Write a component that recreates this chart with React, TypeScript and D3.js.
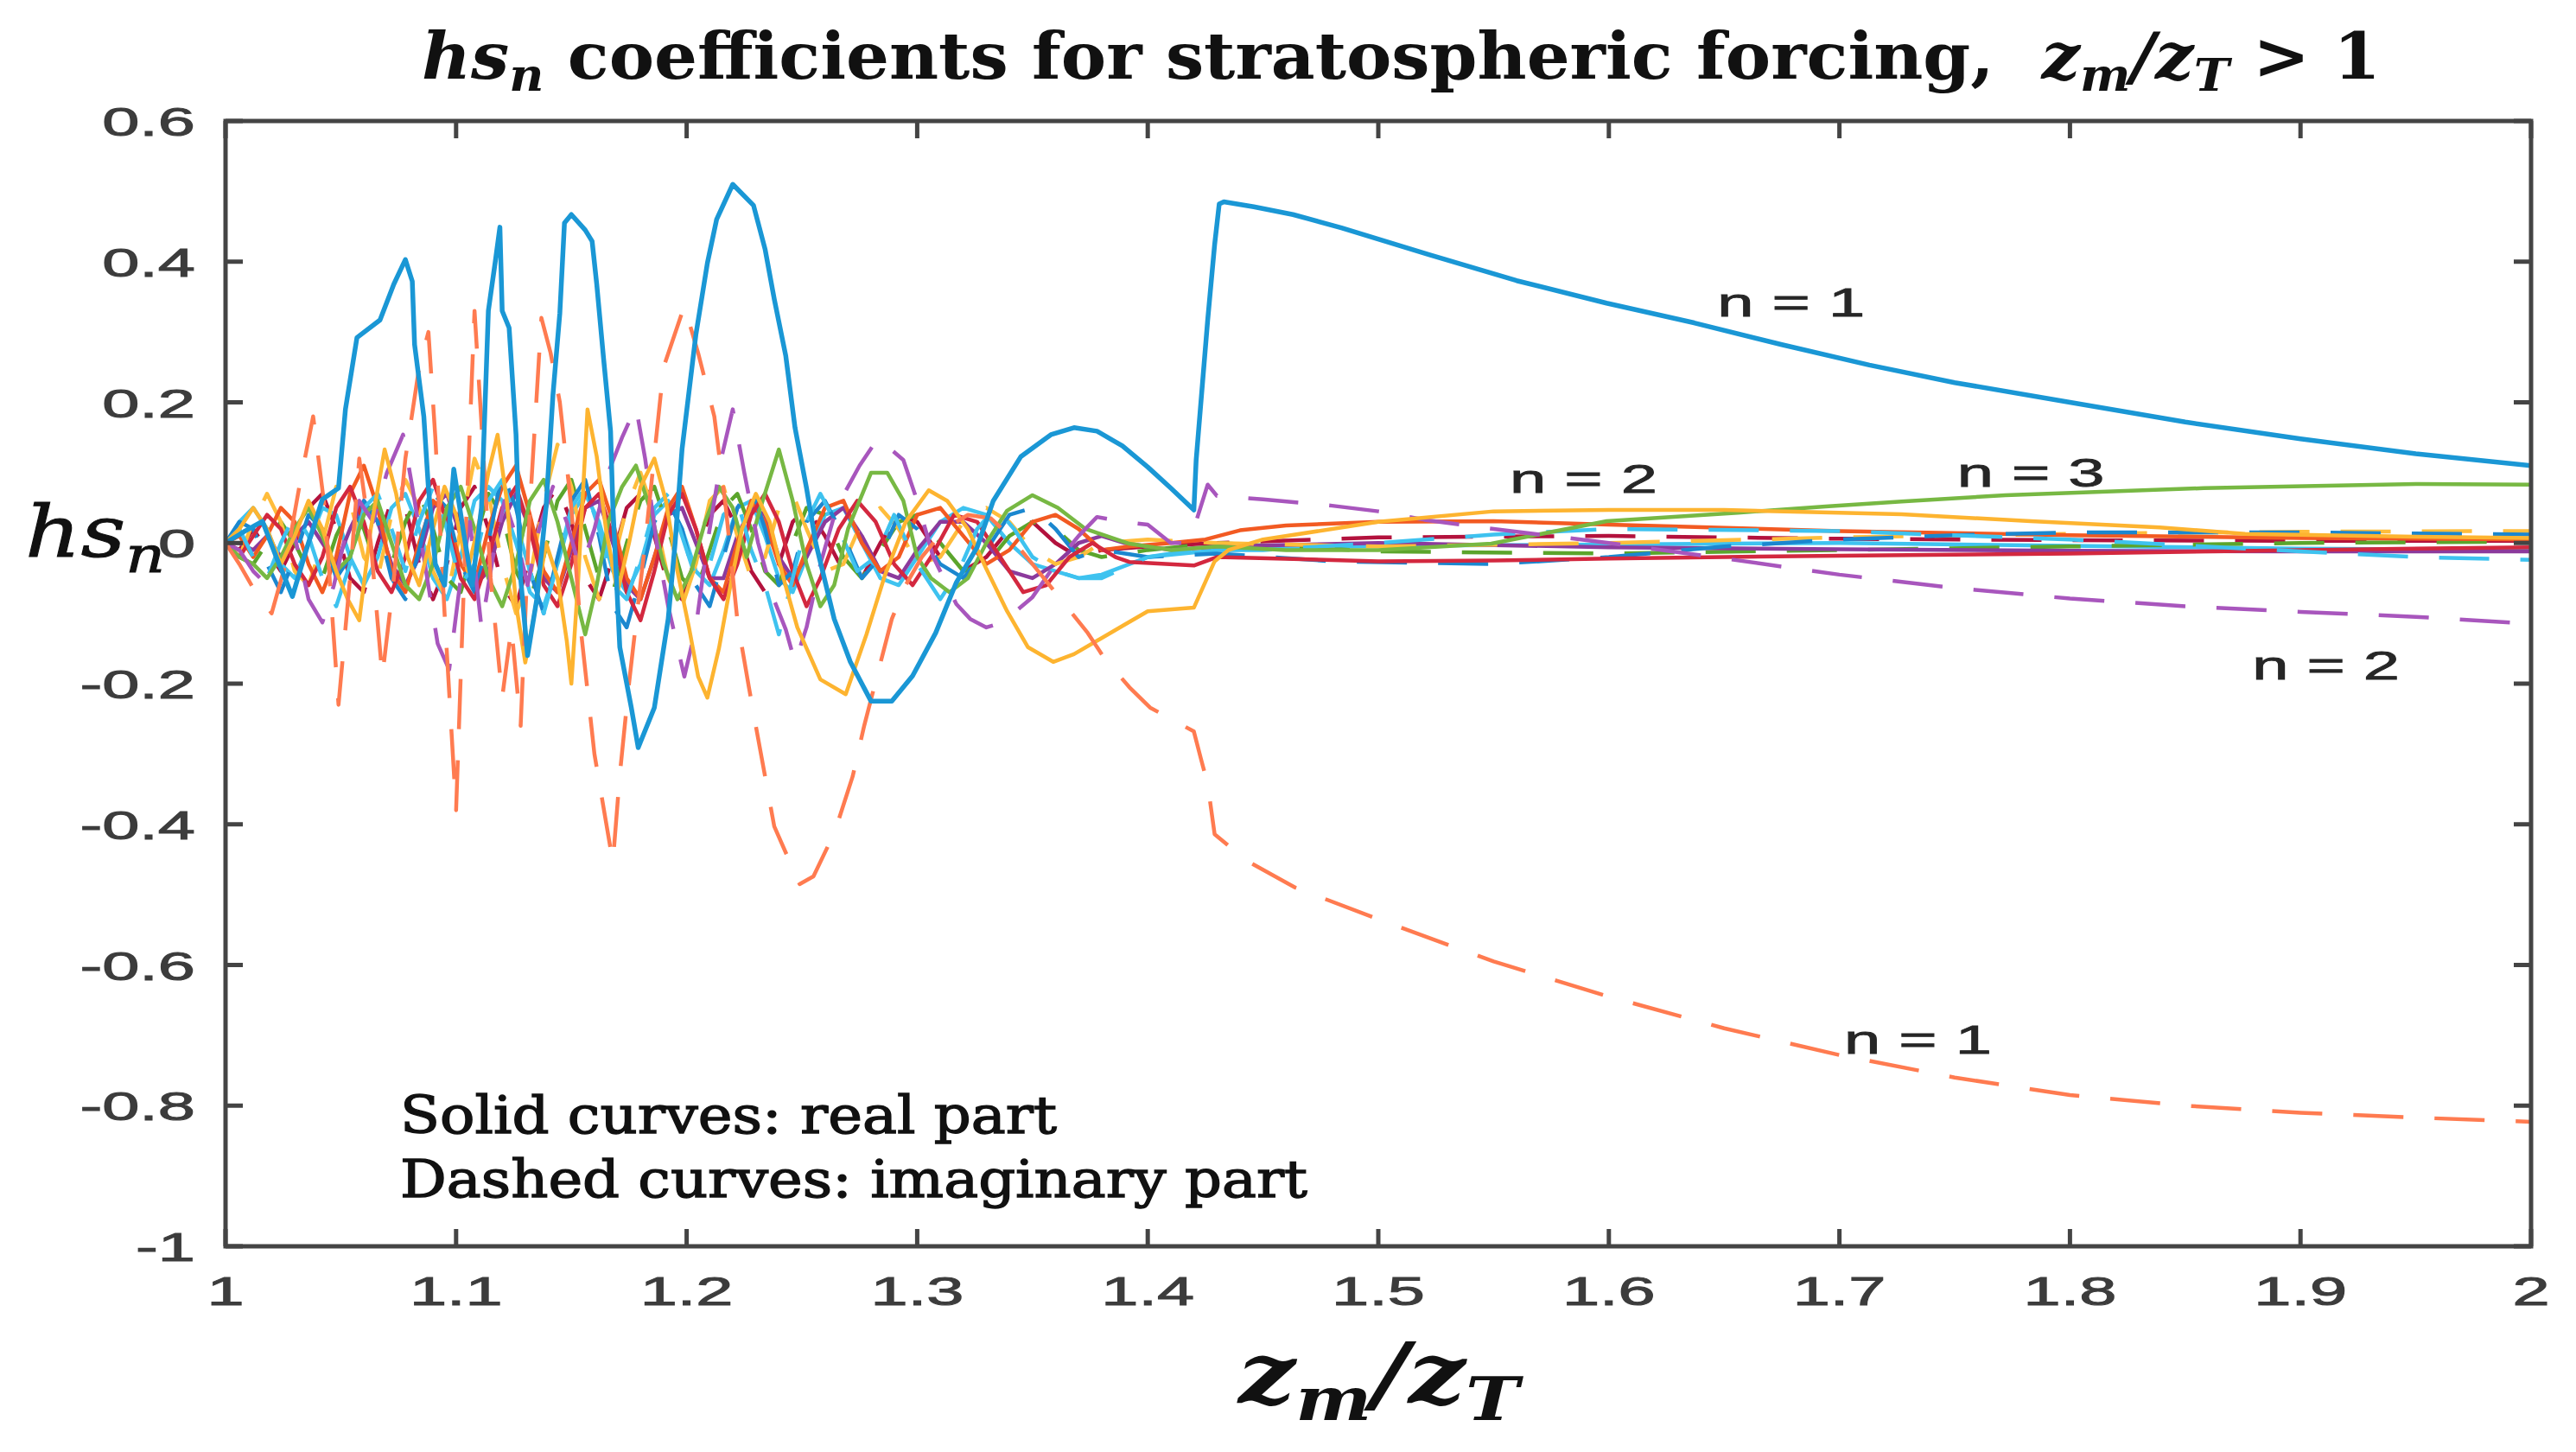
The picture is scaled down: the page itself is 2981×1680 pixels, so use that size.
import React, { useEffect, useRef } from 'react';
import * as d3 from 'd3';

type Pt = [number, number];

// axis ticks
const xTicks = [1, 1.1, 1.2, 1.3, 1.4, 1.5, 1.6, 1.7, 1.8, 1.9, 2];
const yTicks = [0.6, 0.4, 0.2, 0, -0.2, -0.4, -0.6, -0.8, -1];

// n = 1, real part
const re1: Pt[] = [
  [1.000, 0], [1.008, 0.016], [1.016, 0.031], [1.022, -0.02], [1.029, -0.076], [1.035, -0.01], [1.042, 0.062],
  [1.049, 0.078], [1.052, 0.19], [1.057, 0.292], [1.067, 0.317], [1.073, 0.368], [1.078, 0.403], [1.081, 0.372],
  [1.082, 0.282], [1.086, 0.18], [1.088, 0.078], [1.091, -0.03], [1.095, -0.06], [1.099, 0.105], [1.103, 0.02],
  [1.107, -0.06], [1.111, 0.05], [1.114, 0.33], [1.117, 0.40], [1.119, 0.449], [1.120, 0.33], [1.123, 0.306],
  [1.126, 0.154], [1.128, -0.05], [1.131, -0.16], [1.135, -0.08], [1.139, 0.05], [1.142, 0.21], [1.145, 0.327],
  [1.147, 0.455], [1.150, 0.467], [1.156, 0.445], [1.159, 0.429], [1.161, 0.368], [1.164, 0.261], [1.167, 0.159],
  [1.168, 0.052], [1.171, -0.148], [1.176, -0.234], [1.179, -0.291], [1.186, -0.234], [1.192, -0.108], [1.195, 0.0],
  [1.198, 0.133], [1.204, 0.296], [1.209, 0.398], [1.213, 0.46], [1.220, 0.51], [1.229, 0.48], [1.234, 0.418],
  [1.238, 0.347], [1.243, 0.266], [1.247, 0.164], [1.252, 0.078], [1.256, 0.0], [1.264, -0.108], [1.271, -0.169],
  [1.280, -0.225], [1.289, -0.225], [1.298, -0.189], [1.308, -0.128], [1.317, -0.056], [1.326, -0.006], [1.333, 0.06],
  [1.345, 0.123], [1.358, 0.154], [1.368, 0.164], [1.378, 0.159], [1.389, 0.138], [1.400, 0.108], [1.410, 0.078],
  [1.420, 0.047], [1.421, 0.118], [1.426, 0.317], [1.429, 0.424], [1.431, 0.482], [1.433, 0.485], [1.446, 0.478],
  [1.463, 0.467], [1.484, 0.448], [1.522, 0.41], [1.560, 0.373], [1.599, 0.341], [1.637, 0.313], [1.675, 0.282],
  [1.713, 0.253], [1.750, 0.228], [1.800, 0.200], [1.850, 0.172], [1.900, 0.148], [1.950, 0.127], [2.000, 0.11],
];

// n = 1, imaginary part
const im1: Pt[] = [
  [1.000, 0], [1.006, -0.03], [1.013, -0.07], [1.020, -0.10], [1.026, -0.03], [1.032, 0.08], [1.038, 0.18],
  [1.043, 0.05], [1.049, -0.23], [1.054, -0.05], [1.058, 0.12], [1.063, 0.0], [1.068, -0.19], [1.073, -0.05],
  [1.078, 0.12], [1.084, 0.25], [1.088, 0.30], [1.091, 0.15], [1.095, -0.1], [1.100, -0.38], [1.104, 0.0],
  [1.108, 0.33], [1.111, 0.17], [1.115, -0.05], [1.120, -0.22], [1.124, -0.12], [1.128, -0.26], [1.132, 0.05],
  [1.137, 0.32], [1.141, 0.27], [1.145, 0.20], [1.150, 0.05], [1.154, -0.12], [1.160, -0.30], [1.168, -0.454],
  [1.171, -0.33], [1.175, -0.2], [1.182, 0.0], [1.190, 0.25], [1.199, 0.337], [1.205, 0.27], [1.212, 0.18],
  [1.217, 0.05], [1.222, -0.11], [1.227, -0.205], [1.230, -0.26], [1.238, -0.403], [1.249, -0.485], [1.255, -0.474],
  [1.261, -0.433], [1.266, -0.393], [1.272, -0.332], [1.277, -0.26], [1.283, -0.184], [1.289, -0.108], [1.295, -0.06],
  [1.302, -0.02], [1.312, 0.02], [1.322, 0.04], [1.332, 0.035], [1.340, 0.01], [1.350, -0.03], [1.364, -0.087],
  [1.374, -0.128], [1.381, -0.163], [1.392, -0.205], [1.401, -0.234], [1.420, -0.268], [1.423, -0.306],
  [1.426, -0.343], [1.429, -0.414], [1.443, -0.452], [1.464, -0.49], [1.5, -0.535], [1.55, -0.595], [1.6, -0.645],
  [1.65, -0.69], [1.7, -0.728], [1.75, -0.76], [1.8, -0.785], [1.85, -0.80], [1.9, -0.81], [1.95, -0.817], [2.0, -0.823],
];

// n = 2, real part
const re2: Pt[] = [
  [1.000, 0], [1.006, 0.02], [1.012, 0.05], [1.018, 0.02], [1.024, -0.03], [1.030, 0.01], [1.036, 0.06],
  [1.042, 0.02], [1.048, -0.04], [1.053, -0.08], [1.058, -0.11], [1.063, 0.02], [1.069, 0.133], [1.074, 0.07],
  [1.079, -0.02], [1.084, -0.06], [1.090, 0.02], [1.095, 0.08], [1.100, 0.04], [1.105, -0.04], [1.110, 0.03],
  [1.114, 0.10], [1.118, 0.154], [1.122, 0.06], [1.126, -0.087], [1.130, -0.17], [1.134, -0.10], [1.139, 0.0],
  [1.144, -0.05], [1.148, -0.139], [1.150, -0.2], [1.153, -0.05], [1.157, 0.19], [1.161, 0.123], [1.165, 0.02],
  [1.170, -0.07], [1.175, 0.0], [1.180, 0.08], [1.186, 0.12], [1.191, 0.06], [1.196, -0.04], [1.201, -0.12],
  [1.205, -0.19], [1.209, -0.22], [1.214, -0.15], [1.219, -0.06], [1.224, 0.02], [1.230, 0.07], [1.236, 0.03],
  [1.242, -0.05], [1.248, -0.12], [1.258, -0.194], [1.269, -0.215], [1.278, -0.13], [1.286, -0.046], [1.295, 0.03],
  [1.305, 0.075], [1.313, 0.06], [1.322, 0.02], [1.330, -0.037], [1.339, -0.097], [1.348, -0.148], [1.359, -0.169],
  [1.368, -0.158], [1.389, -0.118], [1.400, -0.097], [1.420, -0.092], [1.429, -0.026], [1.435, -0.01], [1.45, 0.005],
  [1.5, 0.03], [1.55, 0.045], [1.6, 0.047], [1.65, 0.047], [1.7, 0.043], [1.727, 0.041], [1.783, 0.031],
  [1.839, 0.022], [1.876, 0.013], [1.95, 0.009], [2.0, 0.007],
];

// n = 2, imaginary part
const im2: Pt[] = [
  [1.000, 0], [1.006, -0.01], [1.012, -0.04], [1.018, -0.06], [1.024, -0.03], [1.030, 0.01], [1.036, -0.08],
  [1.042, -0.113], [1.047, -0.06], [1.052, 0.01], [1.058, 0.06], [1.064, 0.03], [1.070, 0.10], [1.077, 0.154],
  [1.081, 0.08], [1.086, -0.02], [1.092, -0.143], [1.097, -0.18], [1.102, -0.05], [1.106, 0.03], [1.111, -0.12],
  [1.116, -0.02], [1.121, 0.06], [1.126, 0.01], [1.131, -0.06], [1.136, 0.02], [1.142, 0.08], [1.148, 0.03],
  [1.154, -0.04], [1.160, 0.02], [1.166, 0.10], [1.172, 0.15], [1.178, 0.194], [1.182, 0.12], [1.187, 0.0],
  [1.192, -0.09], [1.199, -0.19], [1.204, -0.12], [1.209, 0.0], [1.215, 0.12], [1.220, 0.19], [1.225, 0.10],
  [1.231, 0.0], [1.238, -0.082], [1.243, -0.123], [1.247, -0.17], [1.252, -0.12], [1.258, -0.03], [1.265, 0.05],
  [1.275, 0.11], [1.283, 0.149], [1.294, 0.118], [1.300, 0.06], [1.307, -0.02], [1.317, -0.087], [1.323, -0.108],
  [1.330, -0.12], [1.337, -0.113], [1.350, -0.077], [1.360, -0.03], [1.370, 0.01], [1.378, 0.037], [1.390, 0.03],
  [1.400, 0.026], [1.410, 0.0], [1.416, 0.0], [1.421, 0.031], [1.426, 0.083], [1.430, 0.067], [1.45, 0.062],
  [1.48, 0.053], [1.5, 0.045], [1.52, 0.033], [1.55, 0.02], [1.6, 0.0], [1.65, -0.022], [1.7, -0.045],
  [1.75, -0.064], [1.8, -0.079], [1.85, -0.09], [1.9, -0.098], [1.95, -0.105], [2.0, -0.115],
];

// n = 3, real part
const re3: Pt[] = [
  [1.000, 0], [1.006, -0.02], [1.012, -0.03], [1.018, -0.05], [1.024, -0.02], [1.030, 0.02], [1.036, 0.05],
  [1.042, 0.01], [1.048, -0.04], [1.054, -0.02], [1.060, 0.04], [1.066, 0.06], [1.072, 0.0], [1.078, -0.06],
  [1.084, -0.08], [1.090, -0.03], [1.096, 0.05], [1.102, 0.08], [1.108, 0.02], [1.114, -0.05], [1.120, -0.09],
  [1.126, -0.03], [1.132, 0.06], [1.138, 0.09], [1.144, 0.03], [1.150, -0.05], [1.156, -0.13], [1.161, -0.06],
  [1.166, 0.03], [1.172, 0.08], [1.178, 0.11], [1.184, 0.05], [1.190, -0.03], [1.196, -0.08], [1.202, -0.04],
  [1.208, 0.03], [1.214, 0.08], [1.220, 0.05], [1.226, -0.02], [1.232, 0.05], [1.240, 0.133], [1.246, 0.06],
  [1.252, -0.03], [1.258, -0.09], [1.264, -0.06], [1.270, 0.02], [1.280, 0.10], [1.287, 0.10], [1.294, 0.06],
  [1.300, -0.02], [1.306, -0.05], [1.314, -0.07], [1.322, -0.05], [1.330, 0.0], [1.339, 0.046], [1.350, 0.068],
  [1.361, 0.05], [1.373, 0.02], [1.392, -0.001], [1.41, -0.01], [1.43, -0.005], [1.46, -0.01], [1.5, -0.01],
  [1.549, -0.001], [1.599, 0.031], [1.656, 0.043], [1.694, 0.052], [1.727, 0.059], [1.772, 0.068], [1.858, 0.078],
  [1.951, 0.084], [2.0, 0.083],
];

// n = 3, imaginary part
const im3: Pt[] = [
  [1.000, 0], [1.006, 0.02], [1.012, -0.02], [1.018, -0.05], [1.024, 0.0], [1.030, 0.04], [1.036, 0.01],
  [1.042, -0.05], [1.048, -0.09], [1.054, -0.03], [1.060, 0.05], [1.066, 0.07], [1.072, 0.02], [1.078, -0.04],
  [1.084, 0.03], [1.090, 0.08], [1.096, 0.02], [1.102, -0.06], [1.108, -0.03], [1.114, 0.06], [1.120, 0.09],
  [1.126, 0.03], [1.132, -0.04], [1.138, -0.1], [1.144, -0.03], [1.150, 0.05], [1.156, 0.08], [1.162, 0.02],
  [1.168, -0.06], [1.174, -0.08], [1.180, -0.02], [1.186, 0.05], [1.192, 0.07], [1.198, 0.01], [1.204, -0.05],
  [1.210, -0.03], [1.216, 0.04], [1.222, 0.06], [1.228, -0.01], [1.234, -0.06], [1.240, -0.13], [1.246, -0.05],
  [1.252, 0.03], [1.258, 0.07], [1.266, 0.02], [1.274, -0.04], [1.282, -0.02], [1.290, 0.04], [1.300, -0.03],
  [1.310, -0.08], [1.318, -0.04], [1.326, 0.02], [1.334, 0.05], [1.342, 0.02], [1.350, -0.02], [1.360, -0.04],
  [1.370, -0.05], [1.380, -0.05], [1.390, -0.035], [1.400, -0.02], [1.420, -0.01], [1.45, -0.01], [1.5, 0.0],
  [1.55, 0.012], [1.6, 0.02], [1.7, 0.017], [1.8, 0.005], [1.9, -0.012], [1.95, -0.02], [2.0, -0.024],
];

// n = 4, real part
const re4: Pt[] = [
  [1.000, 0], [1.006, -0.02], [1.012, 0.01], [1.018, 0.04], [1.024, 0.02], [1.030, -0.03], [1.036, -0.06],
  [1.042, -0.02], [1.048, 0.05], [1.054, 0.08], [1.060, 0.03], [1.066, -0.04], [1.072, -0.07], [1.078, -0.02],
  [1.084, 0.06], [1.090, 0.09], [1.096, 0.03], [1.102, -0.05], [1.108, -0.08], [1.114, -0.02], [1.120, 0.05],
  [1.126, 0.08], [1.132, 0.02], [1.138, -0.06], [1.144, -0.09], [1.150, -0.03], [1.156, 0.05], [1.162, 0.07],
  [1.168, 0.01], [1.174, -0.07], [1.180, -0.11], [1.186, -0.04], [1.192, 0.04], [1.198, 0.07], [1.204, 0.02],
  [1.210, -0.05], [1.216, -0.08], [1.222, -0.03], [1.228, 0.04], [1.234, 0.07], [1.240, 0.03], [1.246, -0.04],
  [1.252, -0.09], [1.258, -0.05], [1.266, 0.02], [1.274, 0.06], [1.282, 0.03], [1.290, -0.03], [1.298, -0.06],
  [1.306, -0.02], [1.316, 0.04], [1.326, 0.03], [1.336, -0.02], [1.346, -0.07], [1.356, -0.06], [1.366, -0.02],
  [1.376, 0.0], [1.386, -0.02], [1.392, -0.027], [1.42, -0.032], [1.43, -0.02], [1.5, -0.026], [1.55, -0.025],
  [1.6, -0.022], [1.7, -0.018], [1.8, -0.015], [1.9, -0.01], [2.0, -0.006],
];

// n = 4, imaginary part
const im4: Pt[] = [
  [1.000, 0], [1.006, 0.03], [1.012, 0.02], [1.018, -0.03], [1.024, -0.07], [1.030, -0.02], [1.036, 0.04],
  [1.042, 0.02], [1.048, -0.05], [1.054, -0.02], [1.060, 0.06], [1.066, 0.03], [1.072, -0.05], [1.078, -0.08],
  [1.084, -0.01], [1.090, 0.07], [1.096, 0.05], [1.102, -0.03], [1.108, -0.07], [1.114, 0.0], [1.120, 0.10],
  [1.126, 0.05], [1.132, -0.04], [1.138, -0.1], [1.144, -0.02], [1.150, 0.06], [1.156, 0.09], [1.162, 0.01],
  [1.168, -0.09], [1.174, -0.12], [1.180, -0.05], [1.186, 0.03], [1.192, 0.06], [1.198, 0.02], [1.204, -0.06],
  [1.210, -0.09], [1.216, -0.02], [1.222, 0.05], [1.228, 0.08], [1.234, 0.02], [1.240, -0.06], [1.246, -0.04],
  [1.252, 0.03], [1.260, 0.06], [1.268, 0.01], [1.276, -0.05], [1.284, -0.02], [1.292, 0.04], [1.300, 0.02],
  [1.310, -0.03], [1.320, -0.05], [1.330, -0.01], [1.340, 0.04], [1.350, 0.05], [1.360, 0.02], [1.370, -0.02],
  [1.380, -0.01], [1.400, -0.02], [1.43, -0.015], [1.48, -0.026], [1.55, -0.03], [1.6, -0.02], [1.65, -0.005],
  [1.7, 0.005], [1.75, 0.011], [1.8, 0.015], [1.9, 0.015], [2.0, 0.012],
];

// n = 5, real part
const re5: Pt[] = [
  [1.000, 0], [1.006, 0.01], [1.012, -0.02], [1.018, 0.01], [1.024, 0.05], [1.030, 0.03], [1.036, -0.03],
  [1.042, -0.07], [1.048, -0.02], [1.054, 0.07], [1.060, 0.11], [1.066, 0.05], [1.072, -0.04], [1.078, -0.07],
  [1.084, 0.0], [1.090, 0.06], [1.096, 0.04], [1.102, -0.03], [1.108, -0.06], [1.114, 0.02], [1.120, 0.08],
  [1.126, 0.11], [1.132, 0.04], [1.138, -0.04], [1.144, -0.07], [1.150, 0.0], [1.156, 0.07], [1.162, 0.09],
  [1.168, 0.03], [1.174, -0.05], [1.180, -0.08], [1.186, -0.02], [1.192, 0.05], [1.198, 0.08], [1.204, 0.02],
  [1.210, -0.05], [1.216, -0.07], [1.222, 0.0], [1.228, 0.06], [1.234, 0.03], [1.240, -0.03], [1.246, -0.06],
  [1.252, -0.01], [1.260, 0.05], [1.268, 0.06], [1.276, 0.0], [1.284, -0.04], [1.292, -0.02], [1.300, 0.04],
  [1.310, 0.05], [1.320, 0.01], [1.330, -0.03], [1.340, -0.01], [1.350, 0.03], [1.360, 0.04], [1.370, 0.02],
  [1.380, -0.01], [1.392, -0.005], [1.41, 0.0], [1.425, 0.005], [1.44, 0.018], [1.46, 0.025], [1.5, 0.03],
  [1.55, 0.031], [1.6, 0.026], [1.7, 0.017], [1.8, 0.011], [1.9, 0.007], [2.0, 0.005],
];

// n = 5, imaginary part
const im5: Pt[] = [
  [1.000, 0], [1.006, -0.02], [1.012, 0.03], [1.018, 0.07], [1.024, 0.03], [1.030, -0.04], [1.036, -0.06],
  [1.042, 0.0], [1.048, 0.08], [1.054, 0.06], [1.060, -0.02], [1.066, -0.05], [1.072, 0.04], [1.078, 0.09],
  [1.084, 0.05], [1.090, -0.04], [1.096, -0.08], [1.102, 0.02], [1.108, 0.12], [1.114, 0.07], [1.120, -0.03],
  [1.126, -0.1], [1.132, -0.05], [1.138, 0.06], [1.144, 0.14], [1.150, 0.08], [1.156, -0.02], [1.162, -0.08],
  [1.168, -0.03], [1.174, 0.05], [1.180, 0.10], [1.186, 0.04], [1.192, -0.05], [1.198, -0.09], [1.204, -0.03],
  [1.210, 0.06], [1.216, 0.08], [1.222, 0.01], [1.228, -0.05], [1.234, -0.02], [1.240, 0.05], [1.246, 0.07],
  [1.252, 0.02], [1.260, -0.04], [1.268, -0.03], [1.276, 0.03], [1.284, 0.05], [1.292, 0.02], [1.300, -0.03],
  [1.310, -0.02], [1.320, 0.03], [1.330, 0.05], [1.340, 0.03], [1.350, -0.01], [1.360, -0.03], [1.370, -0.02],
  [1.380, 0.0], [1.400, 0.005], [1.43, 0.0], [1.5, -0.005], [1.6, 0.0], [1.7, 0.008], [1.8, 0.013],
  [1.9, 0.016], [2.0, 0.017],
];

// n = 6, real part
const re6: Pt[] = [
  [1.000, 0], [1.006, 0.0], [1.012, -0.01], [1.018, 0.01], [1.024, -0.02], [1.030, 0.01], [1.036, 0.03],
  [1.042, 0.0], [1.048, -0.03], [1.054, 0.02], [1.060, 0.06], [1.066, 0.03], [1.072, -0.03], [1.078, -0.06],
  [1.084, -0.02], [1.090, 0.05], [1.096, 0.07], [1.102, 0.01], [1.108, -0.06], [1.114, -0.04], [1.120, 0.03],
  [1.126, 0.07], [1.132, 0.02], [1.138, -0.05], [1.144, -0.07], [1.150, -0.01], [1.156, 0.05], [1.162, 0.06],
  [1.168, 0.0], [1.174, -0.06], [1.180, -0.08], [1.186, -0.02], [1.192, 0.04], [1.198, 0.05], [1.204, 0.0],
  [1.210, -0.05], [1.216, -0.05], [1.222, 0.01], [1.228, 0.05], [1.234, 0.04], [1.240, -0.02], [1.246, -0.05],
  [1.252, -0.02], [1.260, 0.03], [1.268, 0.05], [1.276, 0.01], [1.284, -0.04], [1.292, -0.05], [1.300, -0.01],
  [1.310, 0.03], [1.320, 0.03], [1.330, 0.0], [1.340, -0.04], [1.350, -0.05], [1.360, -0.03], [1.370, 0.0],
  [1.380, 0.01], [1.390, 0.0], [1.410, -0.01], [1.43, -0.005], [1.5, 0.0], [1.55, -0.003], [1.6, -0.006],
  [1.7, -0.009], [1.8, -0.011], [1.9, -0.012], [2.0, -0.012],
];

// n = 6, imaginary part
const im6: Pt[] = [
  [1.000, 0], [1.006, -0.02], [1.012, -0.03], [1.018, 0.0], [1.024, 0.03], [1.030, 0.0], [1.036, -0.04],
  [1.042, -0.05], [1.048, 0.01], [1.054, 0.05], [1.060, 0.02], [1.066, -0.04], [1.072, -0.03], [1.078, 0.03],
  [1.084, 0.07], [1.090, 0.02], [1.096, -0.05], [1.102, -0.07], [1.108, 0.0], [1.114, 0.07], [1.120, 0.04],
  [1.126, -0.04], [1.132, -0.08], [1.138, -0.02], [1.144, 0.06], [1.150, 0.09], [1.156, 0.02], [1.162, -0.05],
  [1.168, -0.07], [1.174, 0.0], [1.180, 0.06], [1.186, 0.08], [1.192, 0.02], [1.198, -0.05], [1.204, -0.07],
  [1.210, -0.01], [1.216, 0.05], [1.222, 0.07], [1.228, 0.02], [1.234, -0.04], [1.240, -0.06], [1.246, 0.0],
  [1.252, 0.05], [1.260, 0.04], [1.268, -0.02], [1.276, -0.05], [1.284, -0.01], [1.292, 0.03], [1.300, 0.04],
  [1.310, 0.0], [1.320, -0.04], [1.330, -0.03], [1.340, 0.01], [1.350, 0.03], [1.360, 0.02], [1.370, -0.01],
  [1.380, -0.02], [1.400, -0.01], [1.43, 0.0], [1.5, -0.012], [1.6, -0.015], [1.7, -0.01], [1.8, -0.005],
  [1.9, 0.0], [2.0, 0.002],
];

// n = 7, real part
const re7: Pt[] = [
  [1.000, 0], [1.006, 0.03], [1.012, 0.05], [1.018, 0.02], [1.024, -0.03], [1.030, -0.05], [1.036, 0.0],
  [1.042, 0.05], [1.048, 0.04], [1.054, -0.02], [1.060, -0.06], [1.066, -0.02], [1.072, 0.05], [1.078, 0.07],
  [1.084, 0.02], [1.090, -0.05], [1.096, -0.08], [1.102, -0.02], [1.108, 0.06], [1.114, 0.08], [1.120, 0.06],
  [1.126, 0.0], [1.132, -0.07], [1.138, -0.09], [1.144, -0.03], [1.150, 0.04], [1.156, 0.07], [1.162, 0.03],
  [1.168, -0.04], [1.174, -0.07], [1.180, -0.03], [1.186, 0.04], [1.192, 0.06], [1.198, 0.02], [1.204, -0.04],
  [1.210, -0.06], [1.216, -0.01], [1.222, 0.05], [1.228, 0.06], [1.234, 0.01], [1.240, -0.05], [1.246, -0.07],
  [1.252, -0.02], [1.260, 0.04], [1.268, 0.05], [1.276, 0.0], [1.284, -0.05], [1.292, -0.06], [1.300, -0.02],
  [1.310, 0.03], [1.320, 0.05], [1.330, 0.04], [1.340, 0.0], [1.350, -0.03], [1.360, -0.04], [1.370, -0.05],
  [1.380, -0.045], [1.400, -0.02], [1.43, -0.01], [1.5, -0.004], [1.6, -0.002], [1.7, 0.0], [1.8, -0.004],
  [1.9, -0.008], [2.0, -0.01],
];

// n = 7, imaginary part
const im7: Pt[] = [
  [1.000, 0], [1.006, -0.01], [1.012, 0.02], [1.018, -0.01], [1.024, -0.04], [1.030, 0.0], [1.036, 0.05],
  [1.042, 0.07], [1.048, 0.02], [1.054, -0.05], [1.060, -0.07], [1.066, 0.0], [1.072, 0.06], [1.078, 0.05],
  [1.084, -0.03], [1.090, -0.08], [1.096, -0.03], [1.102, 0.05], [1.108, 0.08], [1.114, 0.02], [1.120, -0.06],
  [1.126, -0.09], [1.132, -0.02], [1.138, 0.05], [1.144, 0.08], [1.150, 0.03], [1.156, -0.05], [1.162, -0.08],
  [1.168, -0.02], [1.174, 0.05], [1.180, 0.07], [1.186, 0.01], [1.192, -0.06], [1.198, -0.08], [1.204, -0.02],
  [1.210, 0.04], [1.216, 0.06], [1.222, 0.02], [1.228, -0.04], [1.234, -0.07], [1.240, -0.03], [1.246, 0.03],
  [1.252, 0.05], [1.260, 0.01], [1.268, -0.04], [1.276, -0.05], [1.284, 0.0], [1.292, 0.04], [1.300, 0.03],
  [1.310, -0.02], [1.320, -0.04], [1.330, -0.02], [1.340, 0.02], [1.350, 0.03], [1.360, 0.0], [1.370, -0.02],
  [1.380, -0.01], [1.400, -0.005], [1.43, 0.0], [1.5, 0.008], [1.6, 0.01], [1.7, 0.006], [1.8, 0.004],
  [1.9, 0.003], [2.0, 0.003],
];

// draw order: minor curves underneath, the labelled ones on top
const curves = [
  { data: im7, color: '#b3123d', dashed: true },
  { data: re7, color: '#3fc3f0', dashed: false },
  { data: im6, color: '#5ba52c', dashed: true },
  { data: re6, color: '#8c3a9c', dashed: false },
  { data: im5, color: '#ffbd3c', dashed: true },
  { data: re5, color: '#f25a22', dashed: false },
  { data: im4, color: '#1b87cf', dashed: true },
  { data: re4, color: '#d3283f', dashed: false },
  { data: im3, color: '#3ec2ef', dashed: true },
  { data: re3, color: '#77b843', dashed: false },
  { data: im2, color: '#a856bd', dashed: true },
  { data: re2, color: '#fdb430', dashed: false },
  { data: im1, color: '#ff7b50', dashed: true },
  { data: re1, color: '#1a97d5', dashed: false },
];

const labels = [
  { x: 1.647, y: 0.322, text: 'n = 1' },
  { x: 1.557, y: 0.072, text: 'n = 2' },
  { x: 1.751, y: 0.080, text: 'n = 3' },
  { x: 1.879, y: -0.194, text: 'n = 2' },
  { x: 1.702, y: -0.726, text: 'n = 1' },
];

export default function App() {
  const svgRef = useRef<SVGSVGElement | null>(null);

  useEffect(() => {
    if (!svgRef.current) return;
    const svg = d3.select(svgRef.current);
    svg.selectAll('*').remove();

    const width = 2981;
    const height = 1680;
    const margin = { top: 140, right: width - 2929, bottom: height - 1442, left: 261 };

    const x = d3.scaleLinear().domain([1, 2]).range([margin.left, width - margin.right]);
    const y = d3.scaleLinear().domain([-1, 0.6]).range([height - margin.bottom, margin.top]);

    svg.append('rect').attr('width', width).attr('height', height).attr('fill', '#fff');

    svg.append('defs').append('clipPath').attr('id', 'plot-clip')
      .append('rect')
      .attr('x', margin.left).attr('y', margin.top)
      .attr('width', x(2) - x(1)).attr('height', y(-1) - y(0.6));

    // Curves
    const line = d3.line<Pt>().x(d => x(d[0])).y(d => y(d[1]));
    svg.append('g')
      .attr('clip-path', 'url(#plot-clip)')
      .attr('fill', 'none')
      .attr('stroke-linejoin', 'round')
      .selectAll('path')
      .data(curves)
      .join('path')
      .attr('stroke', d => d.color)
      .attr('stroke-width', (d, i) => (i === curves.length - 1 ? 5.5 : 4.5))
      .attr('stroke-dasharray', d => (d.dashed ? '58 36' : null))
      .attr('d', d => line(d.data));

    // Box and inward ticks
    const axisColor = '#444';
    svg.append('rect')
      .attr('x', x(1)).attr('y', y(0.6))
      .attr('width', x(2) - x(1)).attr('height', y(-1) - y(0.6))
      .attr('fill', 'none').attr('stroke', axisColor).attr('stroke-width', 5);

    const tickLen = 20;
    const ticks = svg.append('g').attr('stroke', axisColor).attr('stroke-width', 5);
    xTicks.forEach(t => {
      ticks.append('line').attr('x1', x(t)).attr('x2', x(t)).attr('y1', y(-1)).attr('y2', y(-1) - tickLen);
      ticks.append('line').attr('x1', x(t)).attr('x2', x(t)).attr('y1', y(0.6)).attr('y2', y(0.6) + tickLen);
    });
    yTicks.forEach(t => {
      ticks.append('line').attr('x1', x(1)).attr('x2', x(1) + tickLen).attr('y1', y(t)).attr('y2', y(t));
      ticks.append('line').attr('x1', x(2)).attr('x2', x(2) - tickLen).attr('y1', y(t)).attr('y2', y(t));
    });

    // Tick labels (the source figure is stretched horizontally)
    const sx = 1.65;
    const tickFont = "'Liberation Sans', Arial, sans-serif";
    svg.append('g')
      .attr('font-family', tickFont).attr('font-size', 47).attr('fill', '#3c3c3c')
      .attr('stroke', '#3c3c3c').attr('stroke-width', 1)
      .attr('text-anchor', 'middle')
      .selectAll('text')
      .data(xTicks)
      .join('text')
      .attr('transform', d => `translate(${x(d)},1510) scale(${sx},1)`)
      .text(d => String(d));

    svg.append('g')
      .attr('font-family', tickFont).attr('font-size', 47).attr('fill', '#3c3c3c')
      .attr('stroke', '#3c3c3c').attr('stroke-width', 1)
      .attr('text-anchor', 'end')
      .selectAll('text')
      .data(yTicks)
      .join('text')
      .attr('transform', d => `translate(226,${y(d) + 17}) scale(${sx},1)`)
      .text(d => String(d));

    // Curve annotations
    svg.append('g')
      .attr('font-family', tickFont).attr('font-size', 46).attr('fill', '#262626')
      .attr('stroke', '#262626').attr('stroke-width', 0.8)
      .selectAll('text')
      .data(labels)
      .join('text')
      .attr('transform', d => `translate(${x(d.x)},${y(d.y)}) scale(${sx},1)`)
      .text(d => d.text);

    const serif = "'DejaVu Serif', 'Liberation Serif', serif";

    // Title
    const title = svg.append('text')
      .attr('x', 488).attr('y', 91)
      .attr('font-family', serif).attr('font-size', 74).attr('font-weight', 'bold')
      .attr('fill', '#111')
      .attr('textLength', 2267).attr('lengthAdjust', 'spacingAndGlyphs')
      .style('white-space', 'pre');
    title.append('tspan').attr('font-style', 'italic').text('hs');
    title.append('tspan').attr('font-style', 'italic').attr('font-size', 52).attr('dy', 14).text('n');
    title.append('tspan').attr('dy', -14).text(' coefficients for stratospheric forcing,  ');
    title.append('tspan').attr('font-style', 'italic').text('z');
    title.append('tspan').attr('font-style', 'italic').attr('font-size', 52).attr('dy', 14).text('m');
    title.append('tspan').attr('font-style', 'italic').attr('dy', -14).text('/z');
    title.append('tspan').attr('font-style', 'italic').attr('font-size', 52).attr('dy', 14).text('T');
    title.append('tspan').attr('dy', -14).text(' > 1');

    // Y axis label
    const yLabel = svg.append('text')
      .attr('x', 29).attr('y', 644)
      .attr('font-family', serif).attr('font-size', 82).attr('font-style', 'italic')
      .attr('fill', '#111').attr('stroke', '#111').attr('stroke-width', 1)
      .attr('textLength', 162).attr('lengthAdjust', 'spacingAndGlyphs');
    yLabel.append('tspan').text('hs');
    yLabel.append('tspan').attr('font-size', 58).attr('dy', 18).text('n');

    // X axis label
    const xLabel = svg.append('text')
      .attr('x', 1433).attr('y', 1623)
      .attr('font-family', serif).attr('font-size', 98).attr('font-style', 'italic').attr('font-weight', 'bold')
      .attr('fill', '#111')
      .attr('textLength', 325).attr('lengthAdjust', 'spacingAndGlyphs');
    xLabel.append('tspan').text('z');
    xLabel.append('tspan').attr('font-size', 70).attr('dy', 20).text('m');
    xLabel.append('tspan').attr('dy', -20).text('/z');
    xLabel.append('tspan').attr('font-size', 70).attr('dy', 20).text('T');

    // Legend note
    const note = svg.append('g')
      .attr('font-family', serif).attr('font-size', 60).attr('fill', '#111')
      .attr('stroke', '#111').attr('stroke-width', 1.4)
      .style('white-space', 'pre');
    note.append('text').attr('x', 463).attr('y', 1311)
      .attr('textLength', 760).attr('lengthAdjust', 'spacingAndGlyphs')
      .text('Solid curves:  real part');
    note.append('text').attr('x', 463).attr('y', 1385)
      .attr('textLength', 1050).attr('lengthAdjust', 'spacingAndGlyphs')
      .text('Dashed curves: imaginary part');
  }, []);

  return (
    <div style={{ position: 'absolute', left: 0, top: 0 }}>
      <svg ref={svgRef} width={2981} height={1680} style={{ display: 'block' }}></svg>
    </div>
  );
}
